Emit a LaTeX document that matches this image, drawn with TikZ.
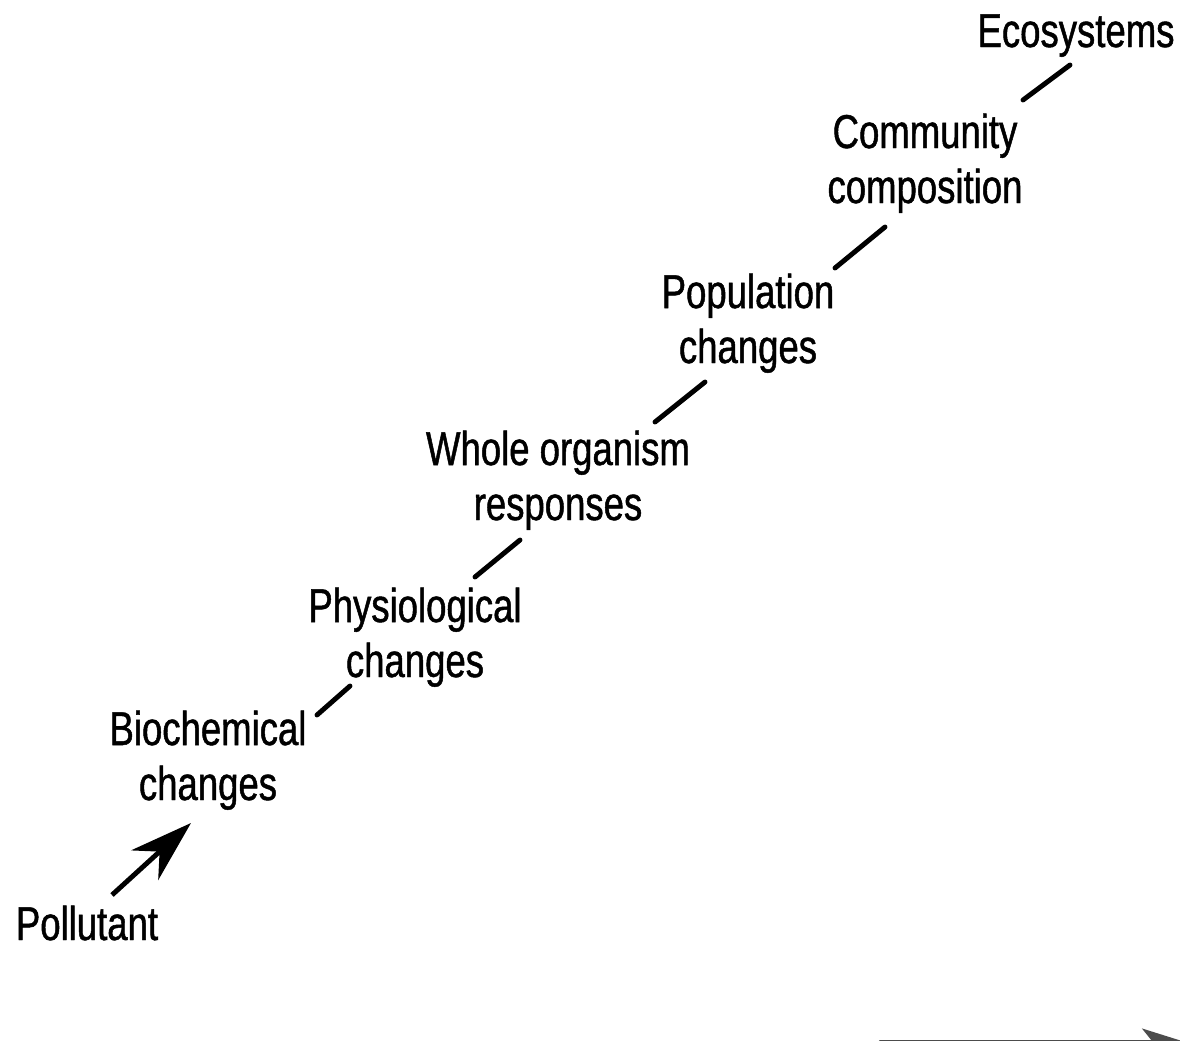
\documentclass[tikz,border=0pt]{standalone}
\usepackage{fontspec}
\setmainfont[FakeStretch=0.77, FakeBold=1]{Liberation Sans}
\usepackage{tikz}
\usetikzlibrary{arrows.meta}

\begin{document}
\begin{tikzpicture}[x=0.02cm, y=-0.02cm, line width=2.8pt, line cap=round, >={Stealth[length=12.5mm, width=8mm, inset=4mm]}]
\tikzstyle{every node} = [align=center, inner sep=0pt, anchor=base, font=\fontsize{27}{31.3}\selectfont]

\useasboundingbox (0,0) rectangle (1180,1041);

\node (A) at (87,940) {Pollutant};
\node (B) at (208,800) {Biochemical\\changes};
\node (C) at (415,677) {Physiological\\changes};
\node (D) at (558,520) {Whole organism\\responses};
\node (E) at (748,363) {Population\\changes};
\node (F) at (925,203) {Community\\composition};
\node (G) at (1076,47) {Ecosystems};

% steps up the scale
\path ([shift={(25,-45)}]A.base) edge[->, line cap=butt] ([shift={(-17,23)}]B.base)
	([shift={(109,-85)}]B.base) edge ([shift={(-65,9)}]C.base)
	([shift={(60,-100)}]C.base) edge ([shift={(-38,20)}]D.base)
	([shift={(97,-98)}]D.base) edge ([shift={(-43,19)}]E.base)
	([shift={(87,-95)}]E.base) edge ([shift={(-40,24)}]F.base)
	([shift={(98,-103)}]F.base) edge ([shift={(-6,18)}]G.base)
	;

% axis cut by the page edge
\coordinate (X0) at (880,1041);
\coordinate (X1) at (1182,1041);
\draw[->, line width=1.4pt, black!70, >={Stealth[length=8mm, width=5mm, inset=2mm]}] (X0) -- (X1);

\end{tikzpicture}
\end{document}
